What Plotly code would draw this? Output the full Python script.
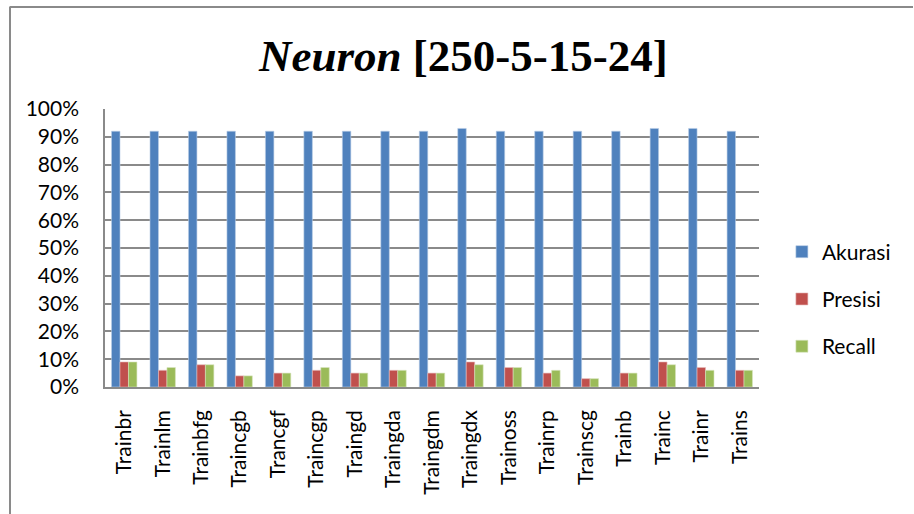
import plotly.graph_objects as go

# Training functions compared for the 250-5-15-24 network
categories = ["Trainbr", "Trainlm", "Trainbfg", "Traincgb", "Trancgf", "Traincgp",
              "Traingd", "Traingda", "Traingdm", "Traingdx", "Trainoss", "Trainrp",
              "Trainscg", "Trainb", "Trainc", "Trainr", "Trains"]

akurasi = [0.92, 0.92, 0.92, 0.92, 0.92, 0.92, 0.92, 0.92, 0.92, 0.93,
           0.92, 0.92, 0.92, 0.92, 0.93, 0.93, 0.92]
presisi = [0.09, 0.06, 0.08, 0.04, 0.05, 0.06, 0.05, 0.06, 0.05, 0.09,
           0.07, 0.05, 0.03, 0.05, 0.09, 0.07, 0.06]
recall = [0.09, 0.07, 0.08, 0.04, 0.05, 0.07, 0.05, 0.06, 0.05, 0.08,
          0.07, 0.06, 0.03, 0.05, 0.08, 0.06, 0.06]

y_ticks = [i / 10 for i in range(11)]

series = [
    ("Akurasi", akurasi, "#4F81BD", "#B9CDE5"),
    ("Presisi", presisi, "#C0504D", "#E6B9B8"),
    ("Recall", recall, "#9BBB59", "#D7E4BD"),
]

FONT = "Lato, 'Open Sans', sans-serif"
FS = 21

fig = go.Figure()
for name, vals, col, edge in series:
    fig.add_trace(go.Bar(
        x=categories, y=vals, name=name, legendgroup=name,
        marker=dict(color=col, line=dict(color=edge, width=0.6)),
    ))

W, H = 914, 514
L, R, T, B = 105, 155, 109, 127
pw, ph = W - L - R, H - T - B


def px_x(x):
    return (x - L) / pw


def px_y(y):
    return (H - B - y) / ph


fig.update_layout(
    width=W, height=H,
    margin=dict(l=L, r=R, t=T, b=B, pad=0),
    paper_bgcolor="white", plot_bgcolor="white",
    barmode="group", bargap=0.34, bargroupgap=0,
    font=dict(family=FONT, size=FS, color="black"),
    title=dict(
        text="<b><i>Neuron</i> [250-5-15-24]</b>",
        font=dict(family="'Liberation Serif', 'Times New Roman', serif", size=45, color="black"),
        x=0.507, xanchor="center", y=0.893, yanchor="middle",
    ),
    showlegend=True,
    legend=dict(
        x=1.035, xanchor="left", y=px_y(299), yanchor="middle",
        font=dict(family=FONT, size=FS, color="black"),
        tracegroupgap=17, itemwidth=30, bgcolor="rgba(0,0,0,0)",
    ),
    xaxis=dict(
        type="category", tickangle=-90, showgrid=False,
        showline=True, linecolor="#8a8a8a", linewidth=1.5,
        ticks="", ticklabelstandoff=13,
        tickfont=dict(family=FONT, size=FS, color="black"),
    ),
    yaxis=dict(
        range=[0, 1], tickvals=y_ticks, tickformat=".0%",
        showgrid=True, gridcolor="#8a8a8a", gridwidth=1.5,
        showline=True, linecolor="#8a8a8a", linewidth=1.5,
        zeroline=False, ticks="", ticklabelstandoff=20,
        tickfont=dict(family=FONT, size=FS, color="black"),
    ),
    shapes=[
        # outer frame: top and left edges
        dict(type="line", xref="paper", yref="paper",
             x0=px_x(9.5), x1=px_x(913), y0=px_y(7), y1=px_y(7),
             line=dict(color="#8a8a8a", width=2)),
        dict(type="line", xref="paper", yref="paper",
             x0=px_x(10), x1=px_x(10), y0=px_y(7), y1=px_y(514),
             line=dict(color="#8a8a8a", width=2)),
    ],
)

fig.write_html("out.html")
